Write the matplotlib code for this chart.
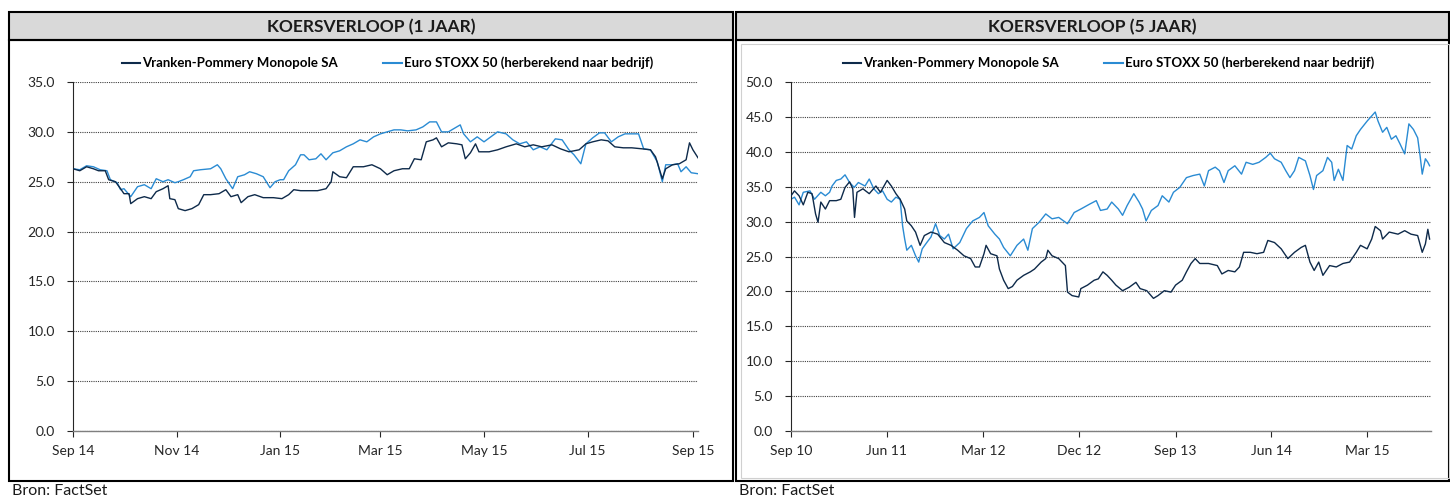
import numpy as np
import pandas as pd
import matplotlib
matplotlib.use('Agg')
import matplotlib.pyplot as plt
import matplotlib.dates as mdates
import matplotlib.patches as mpatches
from matplotlib.lines import Line2D
from matplotlib.ticker import FormatStrFormatter

plt.rcParams['font.family'] = ['Lato', 'DejaVu Sans']

# ---- DATA ----
series_names = ['Vranken-Pommery Monopole SA', 'Euro STOXX 50 (herberekend naar bedrijf)']
titles = ['KOERSVERLOOP (1 JAAR)', 'KOERSVERLOOP (5 JAAR)']
source_text = 'Bron: FactSet'

# 1 year, days since 2014-09-01
start_1y = '2014-09-01'
vp_1y_day = [0, 4, 8, 12, 15, 19, 21, 25, 28, 30, 33, 34, 38, 42, 46, 49, 53, 56, 57, 60,
             62, 66, 70, 74, 77, 81, 86, 90, 93, 97, 99, 103, 107, 112, 118, 123, 127, 130, 134, 139,
             144, 149, 152, 153, 157, 161, 165, 171, 176, 181, 185, 189, 194, 198, 201, 205, 208, 212, 214, 217,
             221, 226, 229, 231, 234, 237, 239, 245, 250, 255, 261, 266, 271, 276, 282, 287, 292, 298, 302, 306,
             311, 315, 319, 324, 329, 335, 340, 343, 347, 349, 353, 357, 361, 363, 365, 368]
vp_1y_val = [26.3, 26.1, 26.5, 26.3, 26.1, 26.1, 25.2, 25.0, 24.3, 23.8, 23.8, 22.8, 23.3, 23.5, 23.3, 24.0, 24.3, 24.6, 23.3, 23.2,
             22.3, 22.1, 22.3, 22.7, 23.7, 23.7, 23.8, 24.2, 23.5, 23.7, 22.9, 23.5, 23.7, 23.4, 23.4, 23.3, 23.7, 24.2, 24.1, 24.1,
             24.1, 24.3, 25.0, 26.0, 25.5, 25.4, 26.5, 26.5, 26.7, 26.3, 25.7, 26.1, 26.3, 26.3, 27.3, 27.2, 29.0, 29.2, 29.4, 28.5,
             28.9, 28.8, 28.7, 27.3, 27.9, 28.8, 28.0, 28.0, 28.2, 28.5, 28.8, 28.5, 28.7, 28.5, 28.7, 28.3, 28.0, 28.2, 28.8, 29.0,
             29.2, 29.1, 28.5, 28.4, 28.4, 28.3, 28.2, 27.5, 25.3, 26.3, 26.7, 26.8, 27.2, 28.9, 28.2, 27.4]
sx_1y_day = [0, 4, 8, 12, 16, 20, 22, 26, 28, 30, 34, 36, 38, 42, 46, 49, 53, 56, 60, 62,
             65, 69, 71, 75, 81, 85, 87, 90, 94, 97, 101, 104, 108, 112, 116, 119, 122, 124, 127, 131,
             134, 136, 139, 143, 146, 149, 153, 157, 161, 165, 169, 173, 177, 181, 185, 189, 193, 197, 202, 206,
             210, 214, 217, 221, 224, 228, 230, 234, 238, 242, 246, 250, 255, 259, 263, 267, 271, 275, 279, 284,
             288, 292, 295, 299, 302, 306, 310, 313, 317, 321, 325, 329, 333, 336, 340, 344, 347, 349, 353, 356,
             358, 361, 364, 368]
sx_1y_val = [26.3, 26.2, 26.6, 26.5, 26.2, 26.1, 25.2, 24.9, 24.2, 24.3, 23.5, 24.0, 24.5, 24.7, 24.3, 25.3, 25.0, 25.2, 24.9, 25.0,
             25.2, 25.5, 26.1, 26.2, 26.3, 26.7, 26.3, 25.3, 24.3, 25.5, 25.7, 26.0, 25.8, 25.5, 24.4, 25.0, 25.2, 25.2, 26.1, 26.7,
             27.7, 27.7, 27.2, 27.3, 27.8, 27.2, 27.9, 28.1, 28.5, 28.8, 29.2, 29.0, 29.5, 29.8, 30.0, 30.2, 30.2, 30.1, 30.2, 30.5,
             31.0, 31.0, 30.0, 30.0, 30.3, 30.7, 29.8, 29.0, 29.5, 29.0, 29.5, 30.0, 29.8, 29.2, 28.8, 29.0, 28.2, 28.5, 28.2, 29.3,
             29.2, 28.2, 27.7, 26.8, 28.8, 29.4, 29.9, 29.9, 29.0, 29.5, 29.8, 29.8, 29.8, 28.3, 28.2, 27.0, 25.0, 26.7, 26.7, 26.8,
             26.0, 26.5, 25.9, 25.8]

# 5 years, days since 2010-09-01
start_5y = '2010-09-01'
vp_5y_day = [0, 10, 23, 35, 48, 60, 70, 77, 85, 98, 110, 129, 142, 154, 167, 176, 181, 188, 205, 223,
             242, 255, 274, 286, 299, 311, 324, 330, 343, 355, 368, 380, 399, 418, 437, 456, 475, 493, 512, 525,
             537, 550, 556, 569, 587, 594, 606, 619, 631, 644, 663, 682, 694, 713, 726, 732, 744, 763, 782, 788,
             801, 820, 826, 845, 864, 876, 889, 901, 914, 926, 945, 964, 983, 995, 1014, 1033, 1046, 1064, 1083, 1096,
             1115, 1127, 1140, 1152, 1165, 1190, 1215, 1228, 1246, 1265, 1278, 1290, 1309, 1328, 1347, 1359, 1378, 1397, 1416, 1435,
             1454, 1466, 1479, 1491, 1504, 1516, 1535, 1554, 1573, 1592, 1611, 1623, 1642, 1655, 1665, 1680, 1686, 1705, 1730, 1749,
             1767, 1786, 1799, 1808, 1815, 1820]
vp_5y_val = [33.7, 34.4, 33.7, 32.4, 34.2, 34.0, 31.1, 29.9, 32.8, 31.8, 33.0, 33.0, 33.2, 34.9, 35.7, 34.7, 30.6, 34.2, 34.7, 34.0,
             35.1, 34.2, 35.9, 35.1, 34.0, 33.2, 31.8, 30.1, 29.4, 28.5, 26.6, 28.0, 28.5, 28.2, 27.0, 26.6, 25.9, 25.1, 24.7, 23.5,
             23.5, 25.4, 26.6, 25.4, 25.1, 23.2, 21.6, 20.4, 20.7, 21.6, 22.3, 22.8, 23.2, 24.2, 24.7, 25.9, 25.1, 24.7, 23.7, 19.9,
             19.4, 19.2, 20.4, 20.9, 21.6, 21.8, 22.8, 22.3, 21.6, 20.9, 20.1, 20.6, 21.3, 20.4, 20.1, 19.0, 19.4, 20.1, 19.9, 20.9,
             21.6, 22.8, 24.0, 24.7, 24.0, 24.0, 23.7, 22.5, 23.0, 22.8, 23.5, 25.6, 25.6, 25.4, 25.6, 27.3, 27.0, 26.1, 24.7, 25.6,
             26.3, 26.6, 24.2, 23.0, 24.2, 22.3, 23.7, 23.5, 24.0, 24.2, 25.6, 26.6, 26.1, 27.5, 29.3, 28.7, 27.5, 28.5, 28.2, 28.7,
             28.2, 28.0, 25.6, 26.8, 28.9, 27.5]
sx_5y_day = [0, 10, 23, 35, 54, 67, 85, 98, 110, 117, 129, 142, 154, 167, 180, 192, 211, 223, 236, 249,
             261, 274, 286, 299, 311, 318, 324, 330, 343, 355, 364, 374, 387, 399, 412, 424, 437, 449, 462, 481,
             500, 518, 537, 550, 562, 581, 594, 606, 625, 644, 663, 675, 688, 707, 726, 744, 763, 788, 807, 826,
             851, 870, 882, 901, 914, 933, 945, 958, 977, 992, 1002, 1012, 1027, 1046, 1058, 1077, 1090, 1108, 1127, 1146,
             1165, 1178, 1190, 1209, 1221, 1234, 1246, 1265, 1284, 1297, 1316, 1334, 1353, 1366, 1378, 1397, 1410, 1422, 1435, 1447,
             1466, 1479, 1489, 1498, 1516, 1529, 1541, 1548, 1560, 1573, 1585, 1598, 1611, 1623, 1642, 1665, 1673, 1686, 1698, 1711,
             1724, 1736, 1749, 1761, 1774, 1786, 1793, 1799, 1808, 1815, 1820]
sx_5y_val = [33.2, 33.5, 32.4, 34.2, 34.4, 33.2, 34.2, 33.7, 34.2, 35.1, 35.9, 36.1, 36.7, 35.6, 34.9, 35.6, 35.1, 36.1, 34.7, 34.0,
             34.4, 33.2, 32.8, 33.5, 33.2, 29.4, 27.5, 25.9, 26.6, 25.1, 24.2, 26.1, 27.0, 27.8, 29.7, 28.0, 27.5, 28.2, 26.1, 27.0,
             29.0, 30.1, 30.6, 31.3, 29.4, 28.2, 27.5, 26.3, 25.1, 26.6, 27.5, 25.9, 29.0, 29.9, 31.1, 30.4, 30.6, 29.7, 31.3, 31.8,
             32.5, 33.0, 31.6, 31.8, 32.8, 31.8, 30.9, 32.3, 34.0, 32.8, 31.8, 30.1, 31.6, 32.3, 33.7, 32.8, 34.2, 34.9, 36.3, 36.6,
             36.8, 35.1, 37.3, 37.8, 37.3, 35.6, 37.3, 38.0, 36.8, 38.5, 38.2, 38.5, 39.2, 39.8, 39.0, 38.5, 37.3, 36.3, 37.3, 39.2,
             38.7, 36.6, 34.6, 36.6, 37.3, 39.2, 38.5, 35.9, 37.5, 35.9, 40.9, 40.4, 42.3, 43.2, 44.4, 45.7, 44.4, 42.8, 43.5, 41.8,
             42.3, 41.1, 39.7, 44.0, 43.2, 42.0, 39.4, 36.8, 39.0, 38.5, 38.0]

# ---- STYLE ----
W, H = 1450, 498
dark = '#0e2a4a'
blue = '#2a8bd3'

fig = plt.figure(figsize=(W / 100, H / 100), dpi=100)


def fx(px):
    return px / W


def fy(py):
    return 1 - py / H


def to_dates(start, days):
    return pd.Timestamp(start) + pd.to_timedelta(days, unit='D')


def draw_panel(x0, x1, title):
    # gray title band and frame
    band = mpatches.Rectangle((fx(x0), fy(40)), fx(x1) - fx(x0), fy(12) - fy(40),
                              transform=fig.transFigure, facecolor='#d9d9d9',
                              edgecolor='black', lw=1.5, zorder=0)
    body = mpatches.Rectangle((fx(x0), fy(481)), fx(x1) - fx(x0), fy(40) - fy(481),
                              transform=fig.transFigure, facecolor='none',
                              edgecolor='black', lw=1.5, zorder=0)
    fig.add_artist(band)
    fig.add_artist(body)
    fig.text(fx((x0 + x1) / 2), fy(27), title, ha='center', va='center',
             fontsize=12.5, fontweight='bold', color='#1a1a1a')
    fig.text(fx(x0 + 3), fy(491), source_text, ha='left', va='center',
             fontsize=11.5, color='#1a1a1a')


def draw_chart(px_left, px_right, ymax, start, xmax_days, ticks,
               vp_day, vp_val, sx_day, sx_val, legend_x):
    ax = fig.add_axes([fx(px_left), fy(431), fx(px_right) - fx(px_left), fy(82) - fy(431)])
    ax.plot(to_dates(start, vp_day), vp_val, color=dark, lw=1.0, zorder=3)
    ax.plot(to_dates(start, sx_day), sx_val, color=blue, lw=1.0, zorder=2)

    ax.set_xlim(pd.Timestamp(start), pd.Timestamp(start) + pd.Timedelta(days=xmax_days))
    ax.set_ylim(0, ymax)
    ax.set_yticks(np.arange(0, ymax + 1, 5))
    ax.yaxis.set_major_formatter(FormatStrFormatter('%.1f'))
    ax.set_xticks(ticks)
    ax.xaxis.set_major_formatter(mdates.DateFormatter('%b %y'))
    ax.grid(axis='y', linestyle=(0, (1, 1)), color='#404040', lw=0.8)
    ax.set_axisbelow(True)
    for s in ['top', 'right']:
        ax.spines[s].set_visible(False)
    ax.spines['left'].set_color('#262626')
    ax.spines['left'].set_linewidth(0.8)
    ax.spines['bottom'].set_color('#7f7f7f')
    ax.spines['bottom'].set_linewidth(1.0)
    ax.tick_params(axis='both', labelsize=10, colors='#262626', length=4, width=0.8)
    ax.tick_params(axis='y', pad=9)
    ax.tick_params(axis='x', pad=6)
    ax.set_facecolor('none')

    handles = [Line2D([], [], color=dark, lw=1.5), Line2D([], [], color=blue, lw=1.5)]
    fig.legend(handles, series_names, ncol=2, loc='center left',
               bbox_to_anchor=(fx(legend_x), fy(63)), bbox_transform=fig.transFigure,
               frameon=False, borderpad=0, borderaxespad=0, handlelength=1.4,
               handletextpad=0.15, columnspacing=3.4,
               prop={'size': 9.5, 'weight': 'bold'})
    return ax


draw_panel(9, 733, titles[0])
draw_panel(736, 1449, titles[1])

# light inner border of the right chart area
fig.add_artist(mpatches.Rectangle((fx(741), fy(478)), fx(1449) - fx(741), fy(44) - fy(478),
                                  transform=fig.transFigure, facecolor='none',
                                  edgecolor='#d0d0d0', lw=0.8, zorder=0))

ticks_1y = pd.date_range(start_1y, periods=7, freq='2MS')
ticks_5y = pd.date_range(start_5y, periods=7, freq='9MS')

draw_chart(73, 698, 35, start_1y, 368, ticks_1y,
           vp_1y_day, vp_1y_val, sx_1y_day, sx_1y_val, 122)
draw_chart(791, 1431, 50, start_5y, 1824, ticks_5y,
           vp_5y_day, vp_5y_val, sx_5y_day, sx_5y_val, 843)

fig.savefig('out.png', dpi=100)
